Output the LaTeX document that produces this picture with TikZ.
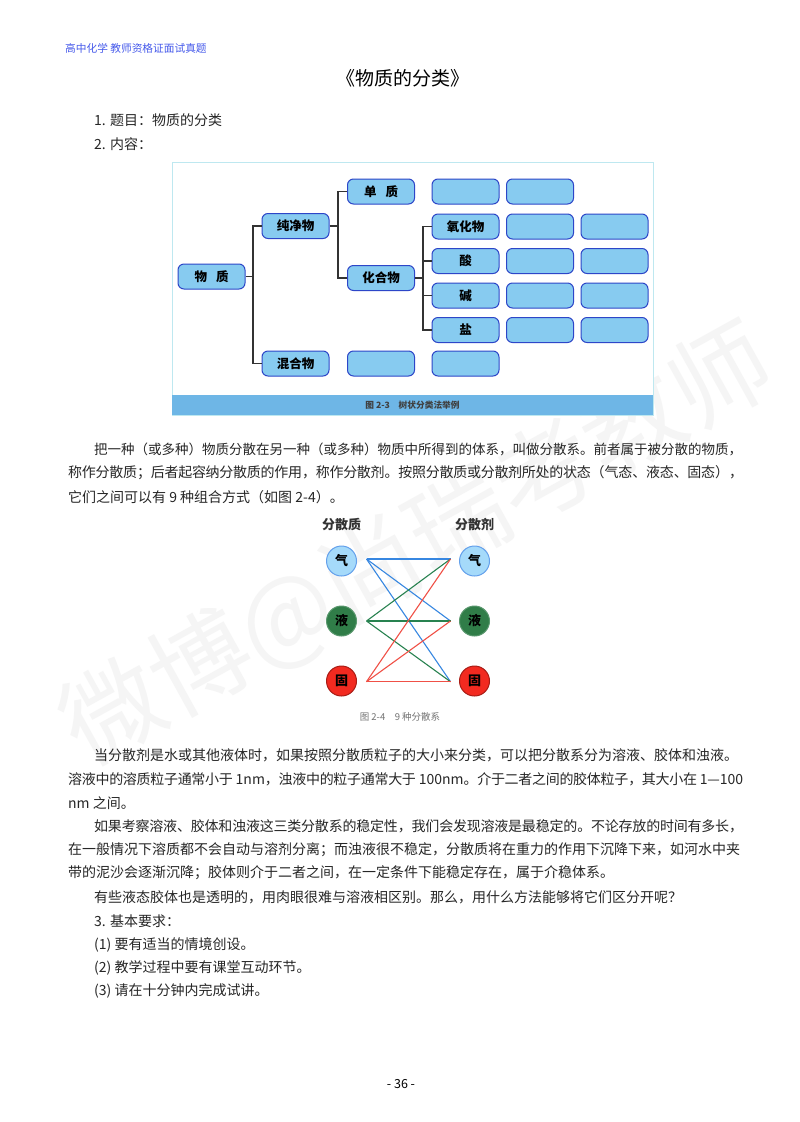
\documentclass[tikz,border=0pt]{standalone}
\usepackage{fontspec}
\setmainfont{Noto Sans CJK SC}
\usetikzlibrary{positioning}
\pgfdeclarelayer{bg}
\pgfsetlayers{bg,main}

\XeTeXlinebreaklocale "zh"
\XeTeXlinebreakskip=0pt plus 2pt minus 1pt
\tolerance=9999
\hbadness=10000
\hfuzz=5pt

\definecolor{boxblue}{RGB}{135,203,240}
\definecolor{boxedge}{RGB}{45,70,200}
\definecolor{bandblue}{RGB}{110,182,230}
\definecolor{frameedge}{RGB}{190,232,240}
\definecolor{gasfill}{RGB}{165,218,250}
\definecolor{gasedge}{RGB}{100,160,235}
\definecolor{liqfill}{RGB}{48,125,72}
\definecolor{solfill}{RGB}{242,42,32}
\definecolor{linkblue}{RGB}{55,135,225}
\definecolor{linkgreen}{RGB}{40,130,80}
\definecolor{linkred}{RGB}{240,80,70}
\definecolor{headblue}{RGB}{70,90,235}

\tikzset{
  x=1pt,y=-1pt,
  bodyline/.style={anchor=west,inner sep=0pt,font=\fontsize{14}{16}\selectfont,text=black!85},
  fullline/.style={bodyline,text width=#1,align=justify},
  treebox/.style={draw=boxedge,fill=boxblue,line width=1pt,rounded corners=6pt,minimum width=67pt,minimum height=25pt,inner sep=0pt,font=\fontsize{12.5}{15}\selectfont\bfseries},
  treelink/.style={draw=black!80,line width=1.6pt},
  phase/.style={shape=circle,minimum size=30pt,inner sep=0pt,line width=1pt,font=\fontsize{13}{15}\selectfont\bfseries},
  headword/.style={anchor=base,inner sep=0pt,font=\fontsize{13}{15}\selectfont\bfseries,text=black!80},
}

\begin{document}
\begin{tikzpicture}

  \useasboundingbox (0,0) rectangle (800,1122);

  % faint watermark behind the page
  \begin{pgfonlayer}{bg}
  \fill[white] (0,0) rectangle (800,1122);
  \node[rotate=29,text=black!4,font=\fontsize{100}{102}\selectfont] (mark) at (418,546) {微博@尚瑞考教师};
  \end{pgfonlayer}

  % header and title
  \node[anchor=west,inner sep=0pt,text=headblue,font=\fontsize{10.7}{12}\selectfont] (head) at (65,48) {高中化学 教师资格证面试真题};
  \node[inner sep=0pt,font=\fontsize{19}{21}\selectfont] (title) at (403,78) {《物质的分类》};

  % short text lines
  \foreach [count=\n] \x/\y/\t in {
    94/120/{1. 题目：物质的分类},
    94/144/{2. 内容：},
    68/497/{它们之间可以有 9 种组合方式（如图 2-4）。},
    68/803/{nm 之间。},
    68/873/{带的泥沙会逐渐沉降；胶体则介于二者之间，在一定条件下能稳定存在，属于介稳体系。},
    94/897/{有些液态胶体也是透明的，用肉眼很难与溶液相区别。那么，用什么方法能够将它们区分开呢？},
    94/921/{3. 基本要求：},
    94/945/{(1) 要有适当的情境创设。},
    94/968/{(2) 教学过程中要有课堂互动环节。},
    94/991/{(3) 请在十分钟内完成试讲。}} {
    \node[bodyline] (line\n) at (\x,\y) {\t};
  };

  % lines that run to the right margin
  \foreach [count=\n] \x/\y/\t in {
    94/449/{\fontsize{13.5}{16}\selectfont 把一种（或多种）物质分散在另一种（或多种）物质中所得到的体系，叫做分散系。前者属于被分散的物质，},
    68/473/{称作分散质；后者起容纳分散质的作用，称作分散剂。按照分散质或分散剂所处的状态（气态、液态、固态），},
    94/755/{当分散剂是水或其他液体时，如果按照分散质粒子的大小来分类，可以把分散系分为溶液、胶体和浊液。},
    68/779/{溶液中的溶质粒子通常小于 1nm，浊液中的粒子通常大于 100nm。介于二者之间的胶体粒子，其大小在 1—100},
    94/826/{如果考察溶液、胶体和浊液这三类分散系的稳定性，我们会发现溶液是最稳定的。不论存放的时间有多长，},
    68/850/{在一般情况下溶质都不会自动与溶剂分离；而浊液很不稳定，分散质将在重力的作用下沉降下来，如河水中夹}} {
    \pgfmathsetmacro{\w}{743-\x}
    \node[fullline=\w pt] (full\n) at (\x,\y) {\parfillskip=0pt\parindent=0pt\relax\t};
  };
  \node[inner sep=0pt,font=\fontsize{12.5}{14}\selectfont] (page) at (401,1084) {- 36 -};

  % frame of the tree figure
  \node[draw=frameedge,fill=white,line width=0.8pt,minimum width=481pt,minimum height=253pt,inner sep=0pt] (frame) at (412.5,288.5) {};
  \node[fill=bandblue,minimum width=481pt,minimum height=20pt,inner sep=0pt,font=\fontsize{8.7}{10}\selectfont\bfseries,text=black!75] (band) at (412.5,405) {图 2-3\quad 树状分类法举例};

  % tree boxes with text
  \node[treebox] (root) at (211.5,276.5) {物\hspace{9pt}质};
  \node[treebox] (pure) at (295.5,226) {纯净物};
  \node[treebox] (mixed) at (295.5,363.5) {混合物};
  \node[treebox] (element) at (381,191.5) {单\hspace{9pt}质};
  \node[treebox] (compound) at (381,278) {化合物};
  \node[treebox] (oxide) at (465.5,226.5) {氧化物};
  \node[treebox] (acid) at (465.5,261) {酸};
  \node[treebox] (base) at (465.5,295.5) {碱};
  \node[treebox] (salt) at (465.5,330) {盐};

  % empty boxes
  \foreach [count=\n] \x/\y in {465.5/191.5,540/191.5,540/226.5,614.5/226.5,540/261,614.5/261,540/295.5,614.5/295.5,540/330,614.5/330,381/363.5,465.5/363.5} {
    \node[treebox] (blank\n) at (\x,\y) {};
  };

  % tree links
  \coordinate (trunk1) at (252.7,276.5);
  \coordinate (trunk2) at (337.7,226);
  \coordinate (trunk3) at (423,278);
  \draw[treelink] (root) -- (trunk1);
  \draw[treelink] (pure) -- (trunk2);
  \draw[treelink] (compound) -- (trunk3);
  \draw[treelink] (trunk1) |- (pure);
  \draw[treelink] (trunk1) |- (mixed);
  \draw[treelink] (trunk2) |- (element);
  \draw[treelink] (trunk2) |- (compound);
  \foreach \y in {oxide,acid,base,salt} {
    \draw[treelink] (trunk3) |- (\y);
  };

  % headings and circles of the second figure
  \node[headword] (solute) at (341.5,529) {分散质};
  \node[headword] (solvent) at (474.5,529) {分散剂};
  \foreach \s/\x in {l/341.5,r/474.5} {
    \node[phase,draw=gasedge,fill=gasfill] (gas\s) at (\x,561) {气};
    \node[phase,draw=liqfill!80,fill=liqfill] (liq\s) at (\x,621) {液};
    \node[phase,draw=solfill!70!black,fill=solfill] (sol\s) at (\x,681) {固};
  };

  % free ends of the links
  \foreach \a/\h in {gas/2,liq/0,sol/-0.7} {
    \coordinate (\a a) at ([xshift=9.5pt,yshift=\h pt]\a l.east);
    \coordinate (\a b) at ([xshift=-8.5pt,yshift=\h pt]\a r.west);
  };

  % nine links
  \foreach \a/\c in {gas/linkblue,liq/linkgreen,sol/linkred} {
    \foreach \b in {gas,liq,sol} {
      \draw[\c,line width=1.1pt] (\a a) -- (\b b);
    };
  };

  \node[inner sep=0pt,text=black!55,font=\fontsize{9.5}{11}\selectfont] (cap) at (400,717) {图 2-4\quad 9 种分散系};

\end{tikzpicture}
\end{document}
